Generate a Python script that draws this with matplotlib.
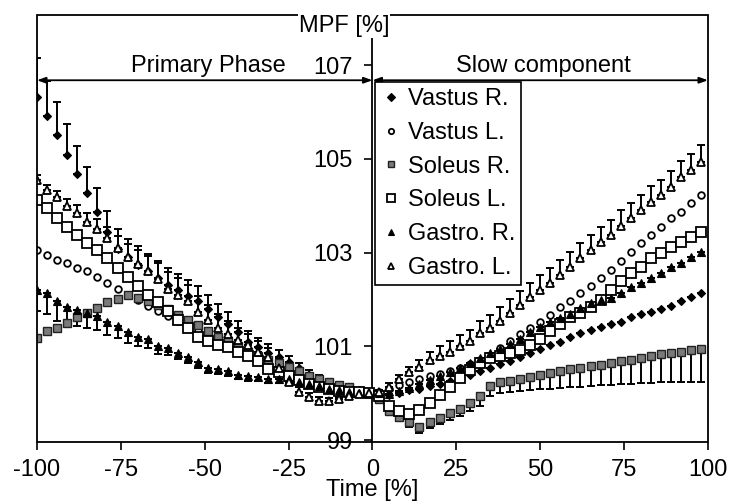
import matplotlib
matplotlib.use('Agg')
import matplotlib.pyplot as plt
from matplotlib.patches import Rectangle

plt.rcParams['font.family'] = ['Liberation Sans', 'DejaVu Sans']
plt.rcParams['axes.unicode_minus'] = False
FS = 17

# ---------------- data ----------------
time_primary = [-100, -97, -94, -91, -88, -85, -82, -79, -76, -73, -70, -67, -64, -61, -58, -55, -52,
                -49, -46, -43, -40, -37, -34, -31, -28, -25, -22, -19, -16, -13, -10, -7, -4, -1]
time_slow = [2, 5, 8, 11, 14, 17, 20, 23, 26, 29, 32, 35, 38, 41, 44, 47, 50, 53, 56, 59, 62, 65,
             68, 71, 74, 77, 80, 83, 86, 89, 92, 95, 98]

series_names = ['Vastus R.', 'Vastus L.', 'Soleus R.', 'Soleus L.', 'Gastro. R.', 'Gastro. L.']

# primary phase means
vastus_r_primary = [106.32, 105.91, 105.51, 105.09, 104.68, 104.28, 103.87, 103.45, 103.08, 102.90,
                    102.74, 102.60, 102.45, 102.32, 102.20, 102.08, 101.96, 101.79, 101.62, 101.47,
                    101.30, 101.10, 100.98, 100.87, 100.77, 100.66, 100.53, 100.40, 100.31, 100.23,
                    100.17, 100.12, 100.06, 100.00]
vastus_l_primary = [103.06, 102.96, 102.85, 102.77, 102.68, 102.60, 102.49, 102.36, 102.23, 102.10,
                    101.98, 101.87, 101.76, 101.65, 101.55, 101.44, 101.34, 101.23, 101.12, 101.02,
                    100.92, 100.82, 100.72, 100.62, 100.52, 100.43, 100.35, 100.28, 100.21, 100.15,
                    100.10, 100.06, 100.03, 100.00]
soleus_r_primary = [101.19, 101.32, 101.40, 101.51, 101.62, 101.72, 101.83, 101.94, 102.02, 102.10,
                    102.04, 101.96, 101.89, 101.79, 101.68, 101.57, 101.45, 101.32, 101.21, 101.11,
                    101.00, 100.89, 100.79, 100.70, 100.64, 100.57, 100.47, 100.36, 100.30, 100.23,
                    100.17, 100.13, 100.04, 100.00]
soleus_l_primary = [104.13, 103.96, 103.74, 103.55, 103.38, 103.21, 103.06, 102.89, 102.68, 102.49,
                    102.28, 102.10, 101.94, 101.76, 101.57, 101.40, 101.21, 101.11, 101.04, 100.98,
                    100.89, 100.79, 100.68, 100.51, 100.45, 100.36, 100.28, 100.20, 100.14, 100.09,
                    100.05, 100.03, 100.03, 100.00]
gastro_r_primary = [102.21, 102.15, 101.96, 101.85, 101.78, 101.72, 101.64, 101.53, 101.43, 101.30,
                    101.21, 101.15, 101.00, 100.96, 100.87, 100.77, 100.66, 100.55, 100.51, 100.47,
                    100.40, 100.36, 100.34, 100.30, 100.30, 100.30, 100.25, 100.20, 100.15, 100.10,
                    100.06, 100.03, 100.01, 100.00]
gastro_l_primary = [104.55, 104.34, 104.19, 104.00, 103.85, 103.66, 103.51, 103.32, 103.10, 102.90,
                    102.75, 102.60, 102.43, 102.23, 102.10, 101.96, 101.74, 101.57, 101.40, 101.26,
                    101.14, 101.03, 100.89, 100.77, 100.55, 100.23, 100.02, 99.91, 99.83, 99.83,
                    99.87, 99.94, 99.98, 100.00]

# slow component means
vastus_r_slow = [100.00, 99.97, 100.00, 100.06, 100.10, 100.15, 100.20, 100.26, 100.33, 100.40,
                 100.47, 100.55, 100.62, 100.68, 100.78, 100.86, 100.94, 101.02, 101.09, 101.20,
                 101.28, 101.35, 101.42, 101.47, 101.53, 101.62, 101.70, 101.74, 101.80, 101.87,
                 101.96, 102.06, 102.15]
vastus_l_slow = [100.02, 100.10, 100.18, 100.25, 100.30, 100.36, 100.42, 100.48, 100.55, 100.62,
                 100.70, 100.80, 100.97, 101.11, 101.26, 101.40, 101.53, 101.68, 101.85, 101.97,
                 102.15, 102.28, 102.47, 102.64, 102.82, 103.02, 103.20, 103.38, 103.55, 103.74,
                 103.87, 104.06, 104.23]
soleus_r_slow = [99.87, 99.62, 99.49, 99.38, 99.28, 99.38, 99.47, 99.58, 99.66, 99.80,
                 99.94, 100.15, 100.23, 100.27, 100.31, 100.35, 100.39, 100.43, 100.47, 100.51,
                 100.54, 100.58, 100.61, 100.65, 100.68, 100.72, 100.75, 100.79, 100.83, 100.86,
                 100.89, 100.92, 100.95]
soleus_l_slow = [99.94, 99.72, 99.62, 99.55, 99.64, 99.80, 99.96, 100.13, 100.32, 100.50,
                 100.65, 100.76, 100.80, 100.85, 100.92, 101.04, 101.15, 101.32, 101.47, 101.62,
                 101.72, 101.85, 102.00, 102.20, 102.40, 102.57, 102.70, 102.89, 103.00, 103.13,
                 103.23, 103.34, 103.45]
gastro_r_slow = [100.00, 99.98, 100.05, 100.12, 100.20, 100.28, 100.36, 100.45, 100.55, 100.65,
                 100.75, 100.85, 100.95, 101.05, 101.15, 101.30, 101.42, 101.52, 101.60, 101.70,
                 101.82, 101.93, 102.00, 102.04, 102.15, 102.26, 102.36, 102.47, 102.57, 102.70,
                 102.79, 102.91, 103.02]
gastro_l_slow = [100.02, 100.13, 100.30, 100.45, 100.57, 100.70, 100.80, 100.89, 101.00, 101.11,
                 101.28, 101.40, 101.55, 101.72, 101.89, 102.06, 102.21, 102.36, 102.53, 102.70,
                 102.89, 103.06, 103.23, 103.38, 103.58, 103.74, 103.91, 104.09, 104.23, 104.40,
                 104.62, 104.77, 104.94]

# one-sided error bars (SD)
vastus_r_err_up_primary = [0.83, 0.75, 0.71, 0.66, 0.60, 0.55, 0.50, 0.45, 0.42, 0.40, 0.40, 0.38,
                           0.37, 0.36, 0.35, 0.34, 0.33, 0.31, 0.29, 0.27, 0.25, 0.23, 0.21, 0.19,
                           0.16, 0.13, 0.11, 0.09, 0.07, 0.05, 0.04, 0.03, 0.02, 0.01]
gastro_r_err_down_primary = [0.45, 0.45, 0.42, 0.40, 0.35, 0.33, 0.30, 0.28, 0.25, 0.22, 0.20, 0.18,
                             0.16, 0.15, 0.14, 0.13, 0.12, 0.11, 0.10, 0.10, 0.09, 0.09, 0.08, 0.08,
                             0.08, 0.07, 0.06, 0.05, 0.04, 0.03, 0.02, 0.02, 0.01, 0.01]
gastro_l_err_up_primary = [0.10, 0.10, 0.12, 0.14, 0.16, 0.18, 0.20, 0.22, 0.25, 0.28, 0.30, 0.33,
                           0.35, 0.35, 0.35, 0.34, 0.33, 0.32, 0.30, 0.28, 0.26, 0.24, 0.22, 0.20,
                           0.18, 0.15, 0.12, 0.10, 0.08, 0.06, 0.05, 0.04, 0.03, 0.02]
soleus_r_err_down_slow = [0.05, 0.06, 0.08, 0.10, 0.12, 0.13, 0.13, 0.14, 0.15, 0.18, 0.22, 0.20,
                          0.22, 0.24, 0.26, 0.28, 0.30, 0.33, 0.35, 0.37, 0.40, 0.42, 0.44, 0.47,
                          0.49, 0.52, 0.54, 0.57, 0.59, 0.62, 0.65, 0.68, 0.72]
gastro_l_err_up_slow = [0.05, 0.08, 0.10, 0.12, 0.15, 0.18, 0.20, 0.22, 0.24, 0.25, 0.27, 0.28,
                        0.29, 0.30, 0.30, 0.30, 0.31, 0.31, 0.31, 0.32, 0.32, 0.32, 0.32, 0.32,
                        0.33, 0.33, 0.33, 0.33, 0.33, 0.34, 0.34, 0.34, 0.35]

x_ticks = [-100, -75, -50, -25, 0, 25, 50, 75, 100]
y_ticks = [99, 101, 103, 105, 107]
phase_labels = ['Primary Phase', 'Slow component']

# ---------------- figure ----------------
fig = plt.figure(figsize=(7.31, 5.04), dpi=100)
ax = fig.add_axes([0.0506, 0.123, 0.9179, 0.847])
ax.set_xlim(-100, 100)
ax.set_ylim(98.96, 108.07)

x_all = time_primary + time_slow
zeros_p = [0] * len(time_primary)
zeros_s = [0] * len(time_slow)

means = {
    'Vastus R.': vastus_r_primary + vastus_r_slow,
    'Vastus L.': vastus_l_primary + vastus_l_slow,
    'Soleus R.': soleus_r_primary + soleus_r_slow,
    'Soleus L.': soleus_l_primary + soleus_l_slow,
    'Gastro. R.': gastro_r_primary + gastro_r_slow,
    'Gastro. L.': gastro_l_primary + gastro_l_slow,
}
errs = {  # (lower, upper)
    'Vastus R.': (zeros_p + zeros_s, vastus_r_err_up_primary + zeros_s),
    'Soleus R.': (zeros_p + soleus_r_err_down_slow, zeros_p + zeros_s),
    'Gastro. R.': (gastro_r_err_down_primary + zeros_s, zeros_p + zeros_s),
    'Gastro. L.': (zeros_p + zeros_s, gastro_l_err_up_primary + gastro_l_err_up_slow),
}
styles = {
    'Vastus R.': dict(marker='D', ms=4.5, mfc='k', mec='k', mew=0.8),
    'Vastus L.': dict(marker='o', ms=4.8, mfc='white', mec='k', mew=1.3),
    'Soleus R.': dict(marker='s', ms=6.0, mfc='#7a7a7a', mec='#222222', mew=1.0),
    'Soleus L.': dict(marker='s', ms=7.5, mfc='white', mec='k', mew=1.3),
    'Gastro. R.': dict(marker='^', ms=5.5, mfc='k', mec='k', mew=0.8),
    'Gastro. L.': dict(marker='^', ms=5.5, mfc='white', mec='k', mew=1.3),
}

handles = []
for name in series_names:
    if name in errs:
        lo, up = errs[name]
        ax.errorbar(x_all, means[name], yerr=[lo, up], fmt='none', ecolor='k',
                    elinewidth=1.4, capsize=3.0, capthick=1.4, zorder=2)
    ln, = ax.plot(x_all, means[name], linestyle='none', label=name, zorder=3, **styles[name])
    handles.append(ln)

# centre y axis at time 0, frame around the plot
ax.spines['left'].set_position(('data', 0))
for s in ['right', 'top', 'bottom']:
    ax.spines[s].set_visible(False)
ax.spines['left'].set_linewidth(1.3)
ax.add_patch(Rectangle((0, 0), 1, 1, transform=ax.transAxes, fill=False,
                       edgecolor='k', linewidth=1.3, zorder=5, clip_on=False))

ax.set_xticks(x_ticks)
ax.set_xticklabels([str(v) for v in x_ticks])
ax.set_yticks(y_ticks)
ax.set_yticklabels([str(v) for v in y_ticks])
ax.tick_params(axis='both', direction='out', length=6, width=1.2, labelsize=FS)
ax.tick_params(axis='y', pad=8)
ax.tick_params(axis='x', pad=6)

ax.set_xlabel('Time [%]', fontsize=FS, labelpad=-1)
ax.text(-8.5, 108.07, 'MPF [%]', fontsize=FS, ha='center', va='top',
        bbox=dict(facecolor='white', edgecolor='none', pad=0.5), zorder=6)

# phase arrows
arrow_y = 106.68
phase_spans = [(x_ticks[0], 0), (0, x_ticks[-1])]
for (x0, x1), lab in zip(phase_spans, phase_labels):
    ax.annotate('', xy=(x0, arrow_y), xytext=(x1, arrow_y),
                arrowprops=dict(arrowstyle='<|-|>,head_length=0.5,head_width=0.18',
                                color='k', lw=1.3, shrinkA=0, shrinkB=0))
    ax.text((x0 + x1) / 2 + 1, 106.85, lab, fontsize=FS, ha='center', va='baseline')

leg = ax.legend(handles=handles, loc='upper left', bbox_to_anchor=(0.504, 0.843),
                borderaxespad=0, fancybox=False, edgecolor='k', framealpha=1,
                prop={'size': FS}, numpoints=1, markerscale=0.8, handlelength=0.8,
                handletextpad=0.35, labelspacing=0.5, borderpad=0.25)
leg.get_frame().set_linewidth(1.2)
leg.set_zorder(7)

fig.savefig('out.png', dpi=100)
